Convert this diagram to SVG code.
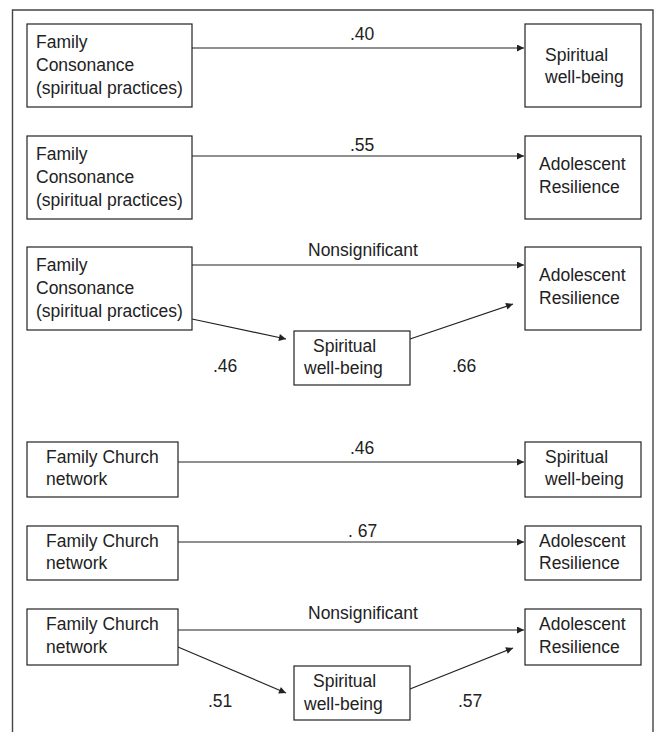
<svg xmlns="http://www.w3.org/2000/svg" width="658" height="732" viewBox="0 0 658 732">
<style>
text{font-family:"Liberation Sans",Arial,sans-serif;font-size:17.5px;fill:#222}
.box{fill:#fff;stroke:#222;stroke-width:1.2}
.edge{stroke:#222;stroke-width:1.2;fill:none;marker-end:url(#ah)}
</style>
<defs>
<marker id="ah" viewBox="0 0 10 10" refX="10" refY="5" markerWidth="9" markerHeight="7" markerUnits="userSpaceOnUse" orient="auto">
<path d="M0,0 L10,5 L0,10 z" fill="#222"/>
</marker>
</defs>
<rect width="658" height="732" fill="#fff"/>
<path d="M12.5,732 V10 H653 V732" fill="none" stroke="#444" stroke-width="1.4"/>

<g id="connectors">
<line class="edge" x1="192" y1="48" x2="524" y2="48"/>
<line class="edge" x1="192" y1="156" x2="524" y2="156"/>
<line class="edge" x1="192" y1="265" x2="524" y2="265"/>
<line class="edge" x1="192" y1="319" x2="286" y2="339"/>
<line class="edge" x1="410" y1="339" x2="513" y2="304"/>
<line class="edge" x1="178" y1="462" x2="524" y2="462"/>
<line class="edge" x1="178" y1="542" x2="524" y2="542"/>
<line class="edge" x1="178" y1="630" x2="524" y2="630"/>
<line class="edge" x1="178" y1="647" x2="286" y2="693"/>
<line class="edge" x1="410" y1="689" x2="513" y2="648"/>
<text x="350" y="40">.40</text>
<text x="350" y="151">.55</text>
<text x="308" y="256">Nonsignificant</text>
<text x="213" y="372">.46</text>
<text x="452" y="372">.66</text>
<text x="350" y="454">.46</text>
<text x="348" y="537">. 67</text>
<text x="308" y="619">Nonsignificant</text>
<text x="208" y="707">.51</text>
<text x="458" y="707">.57</text>
</g>

<g id="fc1">
<rect class="box" x="27" y="24" width="165" height="83"/>
<text x="36" y="48">Family</text><text x="36" y="71">Consonance</text><text x="36" y="94">(spiritual practices)</text>
</g>
<g id="swb1">
<rect class="box" x="525" y="24" width="116" height="83"/>
<text x="545" y="61">Spiritual</text><text x="545" y="83">well-being</text>
</g>

<g id="fc2">
<rect class="box" x="27" y="136" width="165" height="83"/>
<text x="36" y="160">Family</text><text x="36" y="183">Consonance</text><text x="36" y="206">(spiritual practices)</text>
</g>
<g id="ar2">
<rect class="box" x="525" y="136" width="116" height="83"/>
<text x="539" y="170">Adolescent</text><text x="539" y="193">Resilience</text>
</g>

<g id="fc3">
<rect class="box" x="27" y="247" width="165" height="83"/>
<text x="36" y="271">Family</text><text x="36" y="294">Consonance</text><text x="36" y="317">(spiritual practices)</text>
</g>
<g id="ar3">
<rect class="box" x="525" y="247" width="116" height="83"/>
<text x="539" y="281">Adolescent</text><text x="539" y="304">Resilience</text>
</g>
<g id="swb3">
<rect class="box" x="294" y="331" width="116" height="54"/>
<text x="313" y="352">Spiritual</text><text x="304" y="374">well-being</text>
</g>

<g id="fcn4">
<rect class="box" x="27" y="442" width="151" height="55"/>
<text x="46" y="463">Family Church</text><text x="46" y="485">network</text>
</g>
<g id="swb4">
<rect class="box" x="525" y="442" width="116" height="55"/>
<text x="545" y="463">Spiritual</text><text x="545" y="485">well-being</text>
</g>

<g id="fcn5">
<rect class="box" x="27" y="526" width="151" height="54"/>
<text x="46" y="547">Family Church</text><text x="46" y="569">network</text>
</g>
<g id="ar5">
<rect class="box" x="525" y="526" width="116" height="54"/>
<text x="539" y="547">Adolescent</text><text x="539" y="569">Resilience</text>
</g>

<g id="fcn6">
<rect class="box" x="27" y="609" width="151" height="56"/>
<text x="46" y="630">Family Church</text><text x="46" y="653">network</text>
</g>
<g id="ar6">
<rect class="box" x="525" y="609" width="116" height="56"/>
<text x="539" y="630">Adolescent</text><text x="539" y="653">Resilience</text>
</g>
<g id="swb6">
<rect class="box" x="294" y="666" width="116" height="54"/>
<text x="313" y="687">Spiritual</text><text x="304" y="710">well-being</text>
</g>
</svg>
